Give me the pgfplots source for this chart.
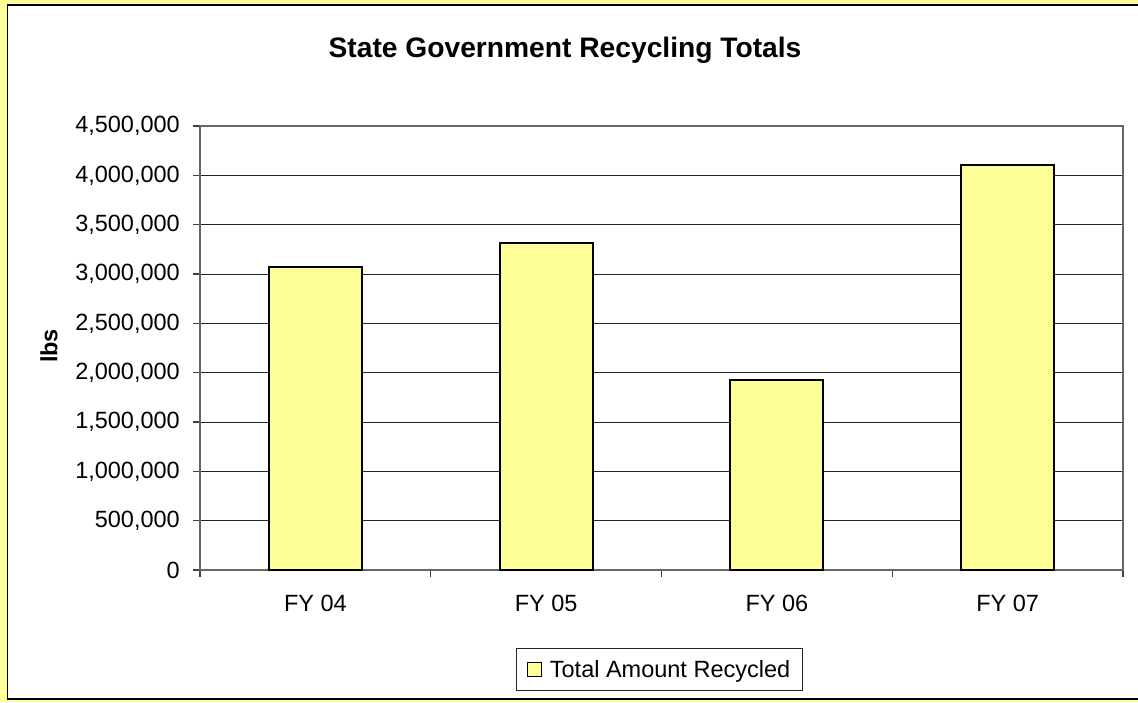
\documentclass[border=0pt]{standalone}
\usepackage{pgfplots}
\pgfplotsset{compat=1.18}
\usepackage{fontspec}
\setmainfont{Liberation Sans}
\definecolor{bgY}{HTML}{FFFF99}
\definecolor{barY}{HTML}{FFFF99}
\begin{document}
\begin{tikzpicture}
\path[use as bounding box] (0,0) rectangle (1138pt,702pt);
\fill[bgY] (0,0) rectangle (1138pt,702pt);
\draw[black, line width=1.2pt, fill=white] (7.5pt,3pt) rectangle (1150pt,697pt);
\begin{axis}[
  at={(200pt,132pt)}, anchor=south west,
  scale only axis, width=923pt, height=444pt,
  ybar, bar width=93pt,
  xmin=-0.5, xmax=3.5, ymin=0, ymax=4500000,
  xtick={0,1,2,3},
  xticklabels={FY 04, FY 05, FY 06, FY 07},
  minor xtick={-0.5,0.5,1.5,2.5,3.5},
  ytick={0,500000,1000000,1500000,2000000,2500000,3000000,3500000,4000000,4500000},
  yticklabels={0,{500,000},{1,000,000},{1,500,000},{2,000,000},{2,500,000},{3,000,000},{3,500,000},{4,000,000},{4,500,000}},
  scaled y ticks=false,
  tick pos=left,
  tick align=outside,
  major tick length=7pt, minor tick length=7pt,
  major x tick style={draw=none},
  tick style={draw=black!75, line width=1.2pt},
  minor tick style={draw=black!75, line width=1.2pt},
  ymajorgrids,
  grid style={draw=black!85, line width=1pt},
  axis line style={draw=black!60, line width=1.5pt},
  ticklabel style={font=\fontsize{23.5}{28}\selectfont, inner sep=0pt},
  yticklabel style={xshift=-13pt},
  xticklabel style={yshift=-18pt},
  title={State Government Recycling Totals},
  title style={at={(axis description cs:0.3955,1.141)}, anchor=base, inner sep=0pt, font=\bfseries\fontsize{28.2}{34}\selectfont},
  ylabel={lbs},
  ylabel style={at={(axis description cs:-0.1546,0.5045)}, anchor=base, inner sep=0pt, font=\bfseries\fontsize{23.5}{28}\selectfont},
  legend style={at={(axis description cs:0.4978,-0.2241)}, anchor=center,
    draw=black!85, line width=1pt, fill=white,
    inner xsep=10pt, inner ysep=10pt,
    nodes={inner sep=2pt},
    font=\fontsize{23.5}{28}\selectfont,
    /tikz/every odd column/.append style={column sep=6pt}},
  legend image code/.code={\draw[#1, line width=1.2pt] (0pt,-7pt) rectangle (14pt,7pt);},
]
\addplot[fill=barY, draw=black, line width=1.8pt] coordinates {(0,3075000) (1,3312000) (2,1927000) (3,4105000)};
\addlegendentry{Total Amount Recycled}
\end{axis}
\end{tikzpicture}
\end{document}
